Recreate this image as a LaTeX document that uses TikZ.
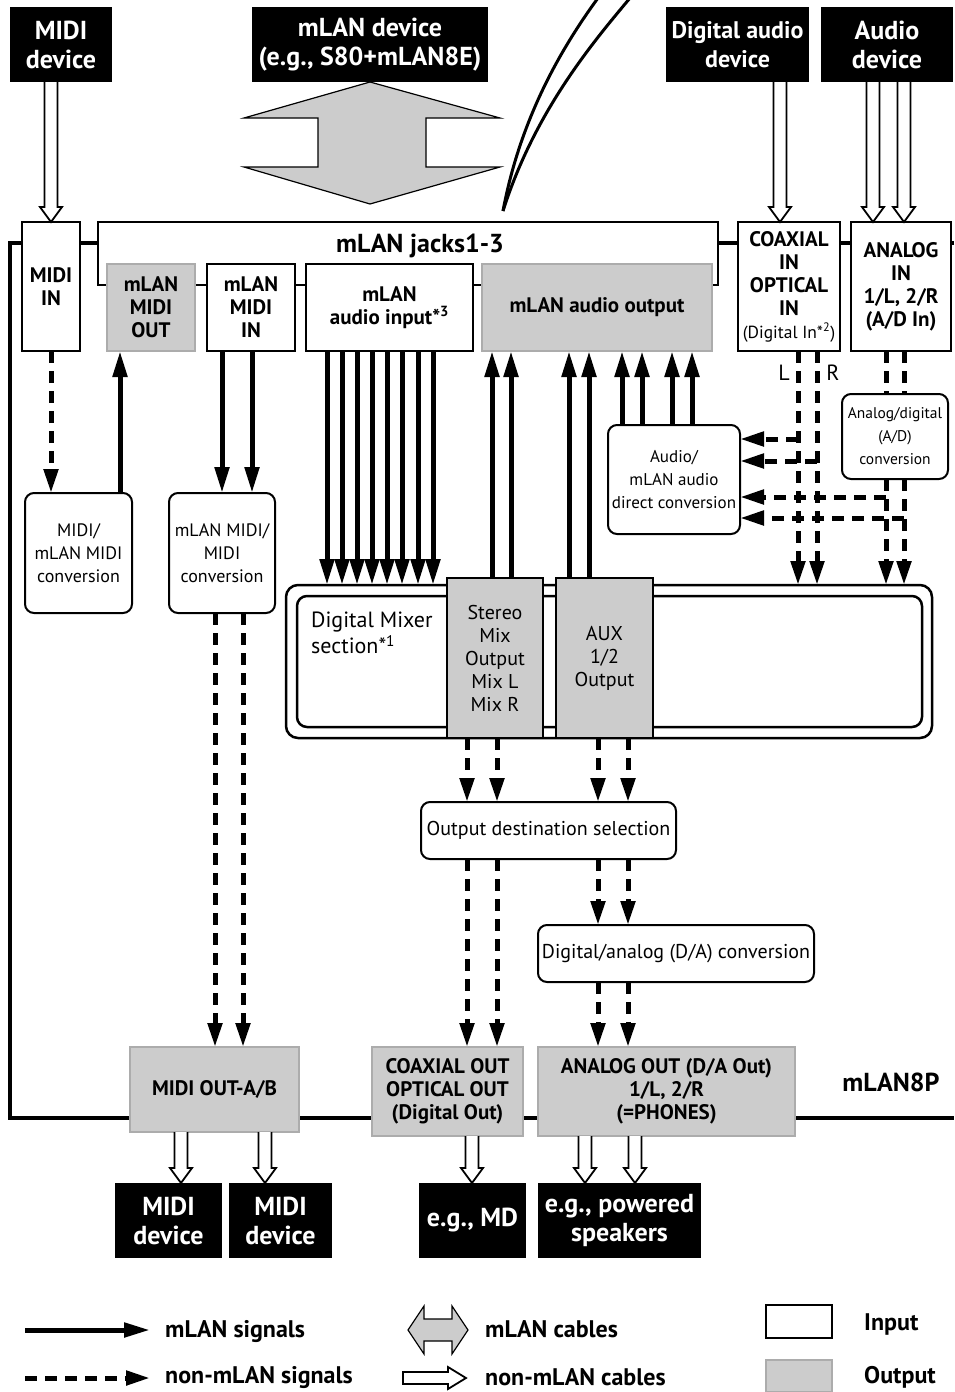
\documentclass[tikz,border=0pt]{standalone}
\usepackage{fontspec}
\setmainfont{PT Sans}
\usetikzlibrary{arrows.meta,calc}
\newcommand\mkbox[7]{\node[#2, minimum width={(#5)-(#3)}, minimum height={(#6)-(#4)}] (#1) at ({((#3)+(#5))/2},{((#4)+(#6))/2}) {#7};}
\tikzset{
  bxbase/.style={inner sep=0pt, outer sep=0pt, align=center},
  blackbox/.style={bxbase, fill=black, text=white, font=\bfseries\fontsize{26}{29}\selectfont},
  inbox/.style={bxbase, draw, line width=2pt, fill=white, font=\bfseries\fontsize{21}{23}\selectfont},
  outbox/.style={bxbase, draw=gray!65, line width=2pt, fill=gray!40, font=\bfseries\fontsize{21}{23}\selectfont},
  mixout/.style={bxbase, draw, line width=1.5pt, fill=gray!40, font=\fontsize{20}{23}\selectfont},
  conv/.style={bxbase, draw, line width=2pt, rounded corners=9pt, fill=white, font=\fontsize{18}{23}\selectfont},
  jackbox/.style={bxbase, draw, line width=1.3pt, fill=white},
  mixbox/.style={bxbase, draw, line width=2.5pt, rounded corners=12pt, fill=white},
  sig/.style={line width=5pt, -{Triangle[length=26pt,width=14pt]}},
  dsig/.style={line width=5pt, dash pattern=on 12pt off 8pt, -{Triangle[length=24pt,width=14pt]}},
  dline/.style={line width=5pt, dash pattern=on 12pt off 8pt},
  mainframe/.style={line width=4pt},
  legtext/.style={anchor=west, inner sep=0pt, font=\bfseries\fontsize{24}{27}\selectfont},
  cable/.style={draw, fill=white, line width=1.8pt, to path={let \p1=(\tikztostart), \p2=(\tikztotarget) in
     (\x1-6.5pt,\y1) -- (\x1-6.5pt,\y2+15pt) -- (\x1-11pt,\y2+15pt) -- (\x1,\y2) -- (\x1+11pt,\y2+15pt) -- (\x1+6.5pt,\y2+15pt) -- (\x1+6.5pt,\y1)}},
}
\begin{document}
\begin{tikzpicture}[x=1pt,y=-1pt]
\useasboundingbox (0,0) rectangle (954,1392);

% main frame
\draw[mainframe] (954,243) -- (10,243) -- (10,1118) -- (954,1118);

% mLAN cable (gray double arrow)
\draw[line width=1.2pt, fill=gray!40] (370,82) -- (500,118) -- (426,118) -- (426,167) -- (500,167) -- (370,204) -- (244,167) -- (318,167) -- (318,118) -- (244,118) -- cycle;
% curves
\draw[line width=3pt] (503,211) .. controls (520,120) and (560,50) .. (598,-2);
\draw[line width=3pt] (503,211) .. controls (535,110) and (595,40) .. (630,-2);

% top devices
\mkbox{mididev}{blackbox}{10}{7}{112}{82}{MIDI\\device}
\mkbox{mlandev}{blackbox}{252}{7}{488}{82}{mLAN device\\(e.g., S80+mLAN8E)}
\mkbox{digdev}{blackbox, font=\bfseries\fontsize{24}{29}\selectfont}{666}{7}{809}{82}{Digital audio\\device}
\mkbox{audiodev}{blackbox}{821}{7}{953}{82}{Audio\\device}

% jacks
\mkbox{jacks}{jackbox}{98}{222}{718}{285}{}
\node[font=\bfseries\fontsize{26}{28}\selectfont, inner sep=0pt] (jackslabel) at (420,246) {mLAN jacks1-3};

\mkbox{midiin}{inbox}{22}{222}{80}{351}{MIDI\\IN}
\mkbox{mmidiout}{outbox}{107}{264}{195}{351}{mLAN\\MIDI\\OUT}
\mkbox{mmidiin}{inbox}{207}{264}{295}{351}{mLAN\\MIDI\\IN}
\mkbox{maudin}{inbox}{306}{264}{473}{351}{mLAN\\audio input*\textsuperscript{3}}
\mkbox{maudout}{outbox}{482}{264}{712}{351}{mLAN audio output}
\mkbox{coax}{inbox}{738}{222}{840}{351}{COAXIAL\\IN\\OPTICAL\\IN\\{\mdseries\fontsize{17.5}{21}\selectfont(Digital In*\textsuperscript{2})}}
\mkbox{analogin}{inbox}{851}{222}{951}{351}{ANALOG\\IN\\1/L, 2/R\\(A/D In)}

% conversion boxes
\mkbox{midiconv}{conv}{25}{493}{132}{613}{MIDI/\\mLAN MIDI\\conversion}
\mkbox{mmidiconv}{conv}{169}{493}{275}{613}{mLAN MIDI/\\MIDI\\conversion}
\mkbox{direct}{conv, font=\fontsize{17}{23}\selectfont}{608}{425}{740}{534}{Audio/\\mLAN audio\\direct conversion}
\mkbox{adconv}{conv, font=\fontsize{15.5}{23}\selectfont}{842}{394}{948}{479}{Analog/digital\\(A/D)\\conversion}

% mixer
\mkbox{mixer}{mixbox}{286}{585}{932}{738}{}
\mkbox{mixinner}{mixbox, rounded corners=10pt}{297}{596}{922}{727}{}
\node[anchor=north west, inner sep=0pt, align=left, font=\fontsize{22}{26}\selectfont] (mixlabel) at (311,612) {Digital Mixer\\section*\textsuperscript{1}};
\mkbox{stereo}{mixout}{447}{578}{543}{738}{Stereo\\Mix\\Output\\Mix L\\Mix R}
\mkbox{aux}{mixout}{556}{578}{653}{738}{AUX\\1/2\\Output}

\mkbox{outsel}{conv, font=\fontsize{20}{23}\selectfont}{421}{802}{676}{859}{Output destination selection}
\mkbox{daconv}{conv, font=\fontsize{20}{23}\selectfont}{538}{925}{814}{982}{Digital/analog (D/A) conversion}

% bottom outputs
\mkbox{midiout}{outbox}{130}{1047}{299}{1132}{MIDI OUT-A/B}
\mkbox{coaxout}{outbox}{372}{1047}{523}{1136}{COAXIAL OUT\\OPTICAL OUT\\(Digital Out)}
\mkbox{analogout}{outbox}{538}{1047}{795}{1136}{ANALOG OUT (D/A Out)\\1/L, 2/R\\(=PHONES)}
\node[font=\bfseries\fontsize{26}{28}\selectfont, inner sep=0pt] (mlan8p) at (891,1082) {mLAN8P};

\mkbox{mdev1}{blackbox}{115}{1183}{222}{1258}{MIDI\\device}
\mkbox{mdev2}{blackbox}{229}{1183}{332}{1258}{MIDI\\device}
\mkbox{mddev}{blackbox}{419}{1183}{526}{1258}{e.g., MD}
\mkbox{spkdev}{blackbox}{538}{1183}{701}{1258}{e.g., powered\\speakers}

% signals
\draw[dsig] (midiin.south) -- (midiin.south |- midiconv.north);
\draw[sig] (120,0 |- midiconv.north) -- (120,0 |- mmidiout.south);
\foreach \xx in {222,252} \draw[sig] (\xx,0 |- mmidiin.south) -- (\xx,0 |- mmidiconv.north);
\foreach \xx in {327,342,357,372,387,402,418,433} \draw[sig] (\xx,0 |- maudin.south) -- (\xx,0 |- mixer.north);
\foreach \xx in {492,511} \draw[sig] (\xx,0 |- stereo.north) -- (\xx,0 |- maudout.south);
\foreach \xx in {569,589} \draw[sig] (\xx,0 |- aux.north) -- (\xx,0 |- maudout.south);
\foreach \xx in {622,642,672,692} \draw[sig] (\xx,0 |- direct.north) -- (\xx,0 |- maudout.south);

\foreach \xx in {798,817} \draw[dsig] (\xx,0 |- coax.south) -- (\xx,0 |- mixer.north);
\node[font=\fontsize{22}{24}\selectfont, inner sep=0pt] (lab-l) at (784,373) {L};
\node[font=\fontsize{22}{24}\selectfont, inner sep=0pt] (lab-r) at (833,373) {R};
\foreach \xx in {886,904} {
  \draw[dline] (\xx,0 |- analogin.south) -- (\xx,0 |- adconv.north);
  \draw[dsig] (\xx,0 |- adconv.south) -- (\xx,0 |- mixer.north);
}
\draw[dsig] (798,439) -- (direct.east |- 0,439);
\draw[dsig] (817,461) -- (direct.east |- 0,461);
\draw[dsig] (886,497) -- (direct.east |- 0,497);
\draw[dsig] (904,518) -- (direct.east |- 0,518);

\foreach \xx in {467,497} \draw[dsig] (\xx,0 |- stereo.south) -- (\xx,0 |- outsel.north);
\foreach \xx in {598,628} \draw[dsig] (\xx,0 |- aux.south) -- (\xx,0 |- outsel.north);
\foreach \xx in {467,497} \draw[dsig] (\xx,0 |- outsel.south) -- (\xx,0 |- coaxout.north);
\foreach \xx in {598,628} {
  \draw[dsig] (\xx,0 |- outsel.south) -- (\xx,0 |- daconv.north);
  \draw[dsig] (\xx,0 |- daconv.south) -- (\xx,0 |- analogout.north);
}
\foreach \xx in {215,243} \draw[dsig] (\xx,0 |- mmidiconv.south) -- (\xx,0 |- midiout.north);

% cables
\draw[cable] (mididev.south -| midiin.north) to (midiin.north);
\draw[cable] (780,0 |- digdev.south) to (780,0 |- coax.north);
\draw[cable] (873,0 |- audiodev.south) to (873,0 |- analogin.north);
\draw[cable] (904,0 |- audiodev.south) to (904,0 |- analogin.north);
\draw[cable] (181,0 |- midiout.south) to (181,0 |- mdev1.north);
\draw[cable] (265,0 |- midiout.south) to (265,0 |- mdev2.north);
\draw[cable] (472,0 |- coaxout.south) to (472,0 |- mddev.north);
\draw[cable] (585,0 |- analogout.south) to (585,0 |- spkdev.north);
\draw[cable] (635,0 |- analogout.south) to (635,0 |- spkdev.north);

% legend
\coordinate (ls1) at (25,1330); \coordinate (le1) at (150,1330);
\draw[sig] (ls1) -- (le1);
\node[legtext] (lt1) at (165,1331) {mLAN signals};
\coordinate (ls2) at (25,1378); \coordinate (le2) at (150,1378);
\draw[dsig] (ls2) -- (le2);
\node[legtext] (lt2) at (165,1377) {non-mLAN signals};
\draw[line width=1.2pt, fill=gray!40] (408,1330) -- (424,1306) -- (424,1319) -- (452,1319) -- (452,1306) -- (468,1330) -- (452,1354) -- (452,1341) -- (424,1341) -- (424,1354) -- cycle;
\node[legtext] (lt3) at (485,1329) {mLAN cables};
\draw[line width=1.8pt, fill=white] (403,1372) -- (448,1372) -- (448,1367) -- (466,1378) -- (448,1389) -- (448,1384) -- (403,1384) -- cycle;
\node[legtext] (lt4) at (485,1377) {non-mLAN cables};
\mkbox{leginput}{inbox}{766}{1305}{832}{1338}{}
\node[legtext] (lt5) at (864,1324) {Input};
\mkbox{legoutput}{outbox}{766}{1360}{832}{1392}{}
\node[legtext] (lt6) at (864,1377) {Output};
\end{tikzpicture}
\end{document}
